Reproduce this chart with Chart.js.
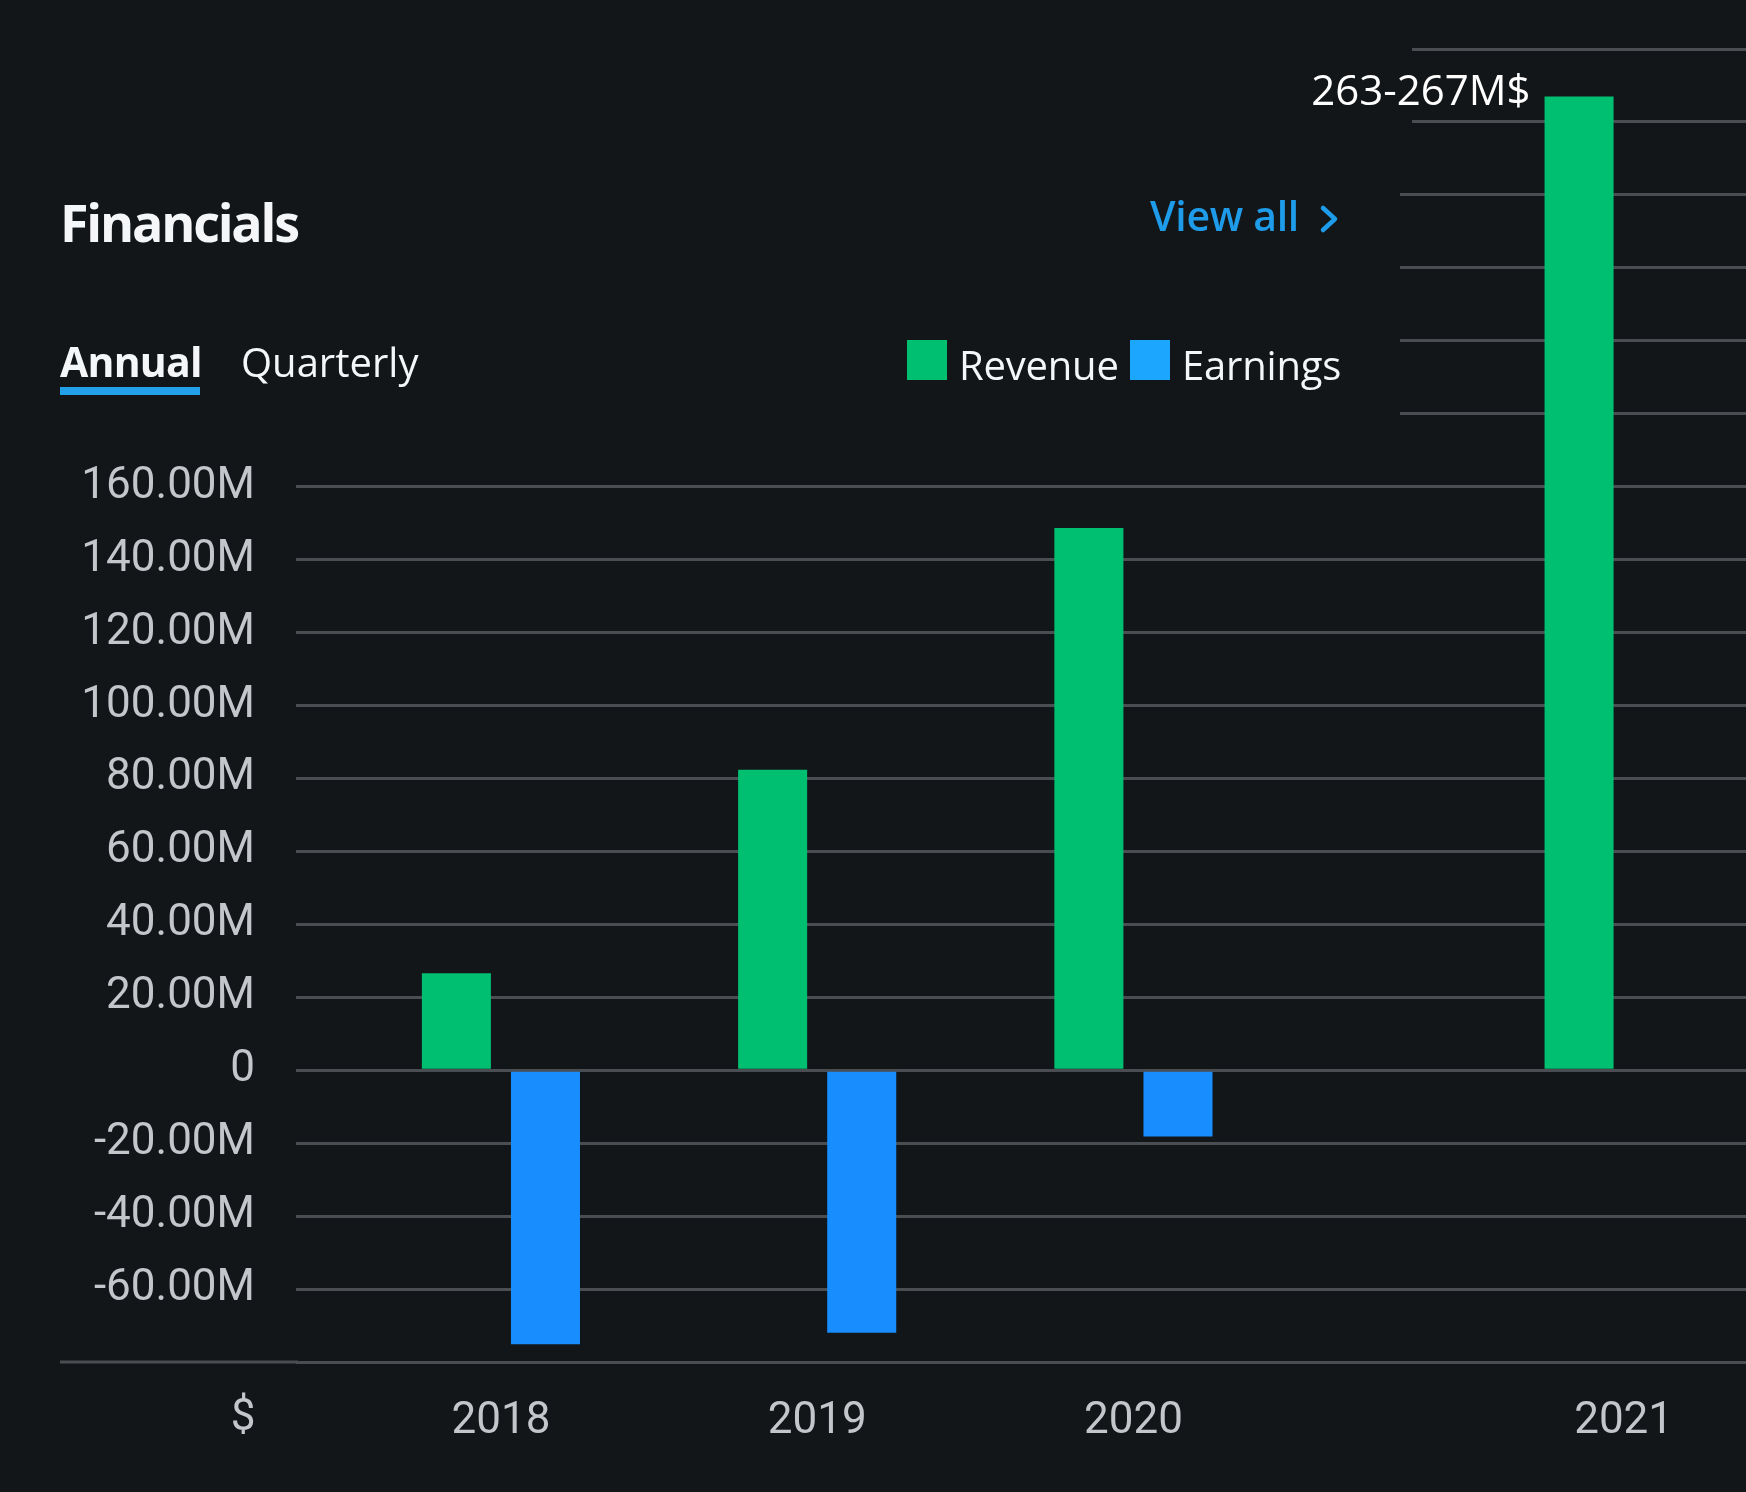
<!DOCTYPE html>
<html>
<head>
<meta charset="utf-8">
<script src="https://cdn.jsdelivr.net/npm/chart.js@4.4.1/dist/chart.umd.min.js"></script>
<style>
  html, body { margin: 0; padding: 0; background: #121619; }
  #wrap { position: relative; width: 1746px; height: 1492px; overflow: hidden; background: #121619; font-family: "Open Sans", "Noto Sans", sans-serif; }
  #chart { position: absolute; left: 0; top: 0; }
  .t { position: absolute; white-space: nowrap; line-height: 1; color: #f4f6f8; }
  .sq { position: absolute; width: 40px; height: 40px; }
</style>
</head>
<body>
<div id="wrap">
  <canvas id="chart" width="1746" height="1492"></canvas>
  <div class="t" style="left:60px;top:196px;font-size:52px;font-weight:700;letter-spacing:-2.2px;">Financials</div>
  <div class="t" style="left:60px;top:341px;font-size:41px;font-weight:700;letter-spacing:-0.8px;">Annual</div>
  <div style="position:absolute;left:60px;top:387px;width:140px;height:8px;background:#23a0ea;"></div>
  <div class="t" style="left:241px;top:342px;font-size:40px;">Quarterly</div>
  <div class="t" style="left:1150px;top:195px;font-size:41px;font-weight:600;color:#1e9be9;letter-spacing:-0.3px;">View all</div>
  <svg style="position:absolute;left:1318px;top:203px" width="24" height="32">
    <polyline points="5,5 17,16 5,27" fill="none" stroke="#1e9be9" stroke-width="4.5" stroke-linecap="round" stroke-linejoin="round"/>
  </svg>
  <div id="legend"></div>
</div>
<script>
// 年度與資料（單位：美元）
const years = ["2018", "2019", "2020", "2021"]
const slots = [0, 1, 2, 3.55]
const revenue = [26.6e6, 82.4e6, 148.7e6, 267e6]
const earnings = [-75.1e6, -72.0e6, -18.2e6, null]
const seriesNames = ["Revenue", "Earnings"]
const seriesColors = ["#00bf71", "#178dfe"]
const legendColors = ["#00bf71", "#1da6fd"]
const yMin = -80e6, yMax = 280e6, yStep = 20e6
const labelLow = -60e6, labelHigh = 160e6
const revenueNote = "263-267M$"
const currencyLabel = "$"

const bg = "#121619"
const gridColor = "#4a4e52"
const tickColor = "#c3c7cb"
const tickFont = { family: "Roboto", size: 44 }

// 圖例
const legend = document.getElementById("legend")
const legendX = [[907, 959], [1130, 1182]]
seriesNames.forEach((name, i) => {
  legend.insertAdjacentHTML("beforeend",
    `<div class="sq" style="left:${legendX[i][0]}px;top:340px;background:${legendColors[i]}"></div>` +
    `<div class="t" style="left:${legendX[i][1]}px;top:345px;font-size:40px;letter-spacing:-0.2px;">${name}</div>`)
})

const overlay = {
  id: "overlay",
  beforeDatasetsDraw(chart) {
    const ctx = chart.ctx
    ctx.save()
    // 標題區遮住上方格線
    ctx.fillStyle = bg
    ctx.fillRect(0, 0, 1412, 156)
    ctx.fillRect(0, 156, 1400, 300)
    // 底線向左延伸
    const y = chart.scales.y.getPixelForValue(yMin)
    ctx.strokeStyle = gridColor
    ctx.lineWidth = 3
    ctx.beginPath()
    ctx.moveTo(60, y)
    ctx.lineTo(chart.chartArea.left + 2, y)
    ctx.stroke()
    ctx.restore()
  },
  afterDatasetsDraw(chart) {
    const ctx = chart.ctx
    const bar = chart.getDatasetMeta(0).data[3]
    ctx.save()
    ctx.fillStyle = "#ffffff"
    ctx.font = '42px "Open Sans"'
    ctx.textAlign = "right"
    ctx.textBaseline = "alphabetic"
    ctx.fillText(revenueNote, bar.x - bar.width / 2 - 14, bar.y + 9)
    // 貨幣符號
    ctx.fillStyle = tickColor
    ctx.font = `${tickFont.size}px ${tickFont.family}`
    ctx.textAlign = "center"
    ctx.textBaseline = "top"
    ctx.fillText(currencyLabel, 243, chart.chartArea.bottom + 35)
    ctx.restore()
  }
}

new Chart(document.getElementById("chart"), {
  type: "bar",
  data: {
    datasets: [
      { label: seriesNames[0], data: revenue.map((v, i) => ({ x: slots[i], y: v })), backgroundColor: seriesColors[0], borderWidth: 0 },
      { label: seriesNames[1], data: earnings.map((v, i) => ({ x: slots[i], y: v })), backgroundColor: seriesColors[1], borderWidth: 0 }
    ]
  },
  options: {
    responsive: false,
    animation: false,
    devicePixelRatio: 1,
    categoryPercentage: 0.5634,
    barPercentage: 0.775,
    layout: { padding: { top: 49, left: 0, right: 0, bottom: 0 } },
    plugins: { legend: { display: false }, tooltip: { enabled: false } },
    scales: {
      x: {
        type: "linear",
        min: -0.648,
        max: 3.937,
        offset: false,
        grid: { display: false },
        border: { display: false },
        afterBuildTicks: (scale) => { scale.ticks = slots.map(v => ({ value: v })) },
        afterFit: (scale) => { scale.height = 130; scale.paddingLeft = 0; scale.paddingRight = 0 },
        ticks: {
          autoSkip: false,
          maxRotation: 0,
          padding: 26,
          color: tickColor,
          font: tickFont,
          callback: (v, i) => years[i]
        }
      },
      y: {
        min: yMin,
        max: yMax,
        afterFit: (scale) => { scale.width = 296; scale.paddingTop = 0; scale.paddingBottom = 0 },
        grid: { color: gridColor, lineWidth: 3, drawTicks: false },
        border: { display: false },
        ticks: {
          stepSize: yStep,
          padding: 41,
          color: tickColor,
          font: tickFont,
          callback: (v) => {
            if (v < labelLow || v > labelHigh) return ""
            return v === 0 ? "0" : (v / 1e6).toFixed(2) + "M"
          }
        }
      }
    }
  },
  plugins: [overlay]
})
</script>
</body>
</html>
